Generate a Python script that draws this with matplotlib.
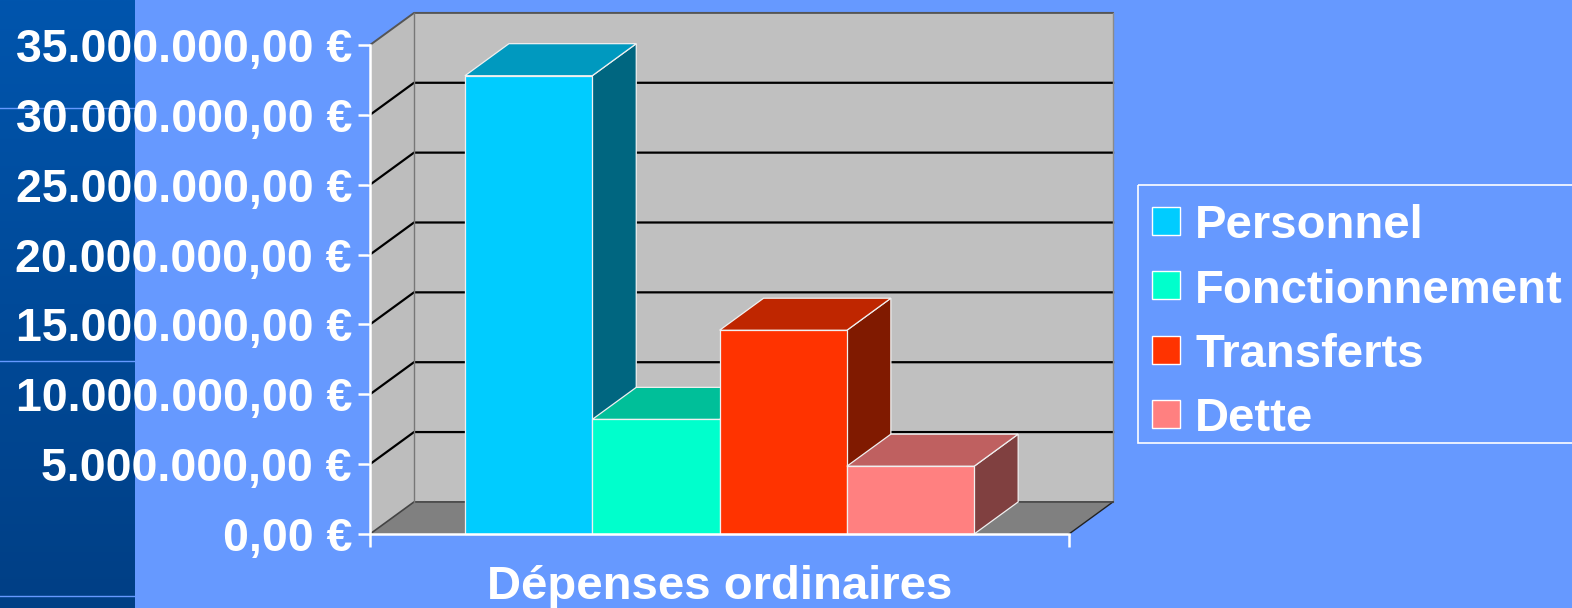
import numpy as np
import matplotlib.pyplot as plt
from matplotlib.patches import Polygon, Rectangle

plt.rcParams['font.family'] = ['Liberation Sans', 'DejaVu Sans']
plt.rcParams['font.weight'] = 'bold'
plt.rcParams['axes.labelweight'] = 'bold'

categories = ["Personnel", "Fonctionnement", "Transferts", "Dette"]
values = [32800000, 8200000, 14580000, 4850000]
tick_values = [0, 5000000, 10000000, 15000000, 20000000, 25000000, 30000000, 35000000]
tick_labels = ["0,00 €", "5.000.000,00 €", "10.000.000,00 €", "15.000.000,00 €",
               "20.000.000,00 €", "25.000.000,00 €", "30.000.000,00 €", "35.000.000,00 €"]
group_label = "Dépenses ordinaires"

front_cols = ["#00CCFF", "#00FFCC", "#FF3300", "#FF8080"]
top_cols = ["#0099BF", "#00BF99", "#BF2600", "#BF6060"]
side_cols = ["#006680", "#008066", "#801A00", "#804040"]

BG = "#6699FF"
W, H = 1572, 608

fig = plt.figure(figsize=(W / 100, H / 100), dpi=100, facecolor=BG)

# background band + legend, in pixels
bg = fig.add_axes([0, 0, 1, 1])
grad = np.linspace(0, 1, 256).reshape(-1, 1)
band = np.zeros((256, 1, 3))
c1 = np.array([0x00, 0x55, 0xAD]) / 255
c2 = np.array([0x00, 0x3F, 0x85]) / 255
band[:, 0, :] = c1 + (c2 - c1) * grad
bg.imshow(band, extent=[0, 135, H, 0], aspect="auto", zorder=0)
bg.set_xlim(0, W)
bg.set_ylim(H, 0)
bg.axis("off")
for yy in [108, 361, 596]:
    bg.plot([0, 135], [yy, yy], color=BG, lw=1, zorder=1)

bg.add_patch(Rectangle((1137.5, 185), W, 258, fill=False, ec="white", lw=1.2, clip_on=True))
for i, name in enumerate(categories):
    yc = 221.5 + i * 64.3
    bg.add_patch(Rectangle((1152, yc - 14.5), 28, 28, fc=front_cols[i], ec="white", lw=1))
    bg.text(1195, yc, name, color="white", fontsize=34, va="center_baseline", ha="left")

# main chart, data space
ax = fig.add_axes([370 / W, (H - 534) / H, 699 / W, 489 / H])
ax.patch.set_alpha(0)
ax.set_xlim(-0.746, 4.745)
ax.set_ylim(0, 35000000)

dx = 0.3456
dy = 2296000
x0, x1 = ax.get_xlim()
ymax = tick_values[-1]


def poly(pts, fc, ec="none", lw=0.0, z=1):
    ax.add_patch(Polygon(pts, closed=True, fc=fc, ec=ec, lw=lw, clip_on=False, zorder=z))


poly([(x0, 0), (x0 + dx, dy), (x0 + dx, ymax + dy), (x0, ymax)], "#BDBDBD")
poly([(x0 + dx, dy), (x1 + dx, dy), (x1 + dx, ymax + dy), (x0 + dx, ymax + dy)], "#C0C0C0")
poly([(x0, 0), (x1, 0), (x1 + dx, dy), (x0 + dx, dy)], "#808080")

for t in tick_values[1:-1]:
    ax.plot([x0, x0 + dx, x1 + dx], [t, t + dy, t + dy], color="black", lw=1.6,
            clip_on=False, zorder=1.5)
ax.plot([x0, x0 + dx, x1 + dx], [ymax, ymax + dy, ymax + dy], color="#555555", lw=1.4,
        clip_on=False, zorder=1.5)
ax.plot([x1 + dx, x1 + dx], [ymax + dy, dy], color="#8A8A8A", lw=1, clip_on=False, zorder=1.5)
ax.plot([x1 + dx, x1], [dy, 0], color="#222222", lw=1, clip_on=False, zorder=1.5)
ax.plot([x0, x0 + dx, x1 + dx], [0, dy, dy], color="#444444", lw=1.2, clip_on=False, zorder=1.5)
ax.plot([x0 + dx, x0 + dx], [dy, ymax + dy], color="#777777", lw=1, clip_on=False, zorder=1.5)

# bars, left to right so the later ones cover the side of the earlier
for i, v in enumerate(values):
    z = 2 + i
    poly([(i + 1, 0), (i + 1 + dx, dy), (i + 1 + dx, v + dy), (i + 1, v)], side_cols[i], "#F0F0F0", 0.9, z)
    poly([(i, v), (i + 1, v), (i + 1 + dx, v + dy), (i + dx, v + dy)], top_cols[i], "#F0F0F0", 0.9, z)
    poly([(i, 0), (i + 1, 0), (i + 1, v), (i, v)], front_cols[i], "#F0F0F0", 0.9, z)

for s in ["top", "right"]:
    ax.spines[s].set_visible(False)
for s in ["left", "bottom"]:
    ax.spines[s].set_color("white")
    ax.spines[s].set_linewidth(1.8)
    ax.spines[s].set_zorder(10)

ax.set_yticks(tick_values)
ax.set_yticklabels(tick_labels, fontsize=33.5, color="white")
ax.set_xticks([x0, x1])
ax.set_xticklabels([])
ax.tick_params(axis="both", color="white", width=1.8, length=9, pad=4)
ax.set_xlabel(group_label, fontsize=34, color="white", labelpad=9)

fig.savefig("out.png", dpi=100, facecolor=BG)
